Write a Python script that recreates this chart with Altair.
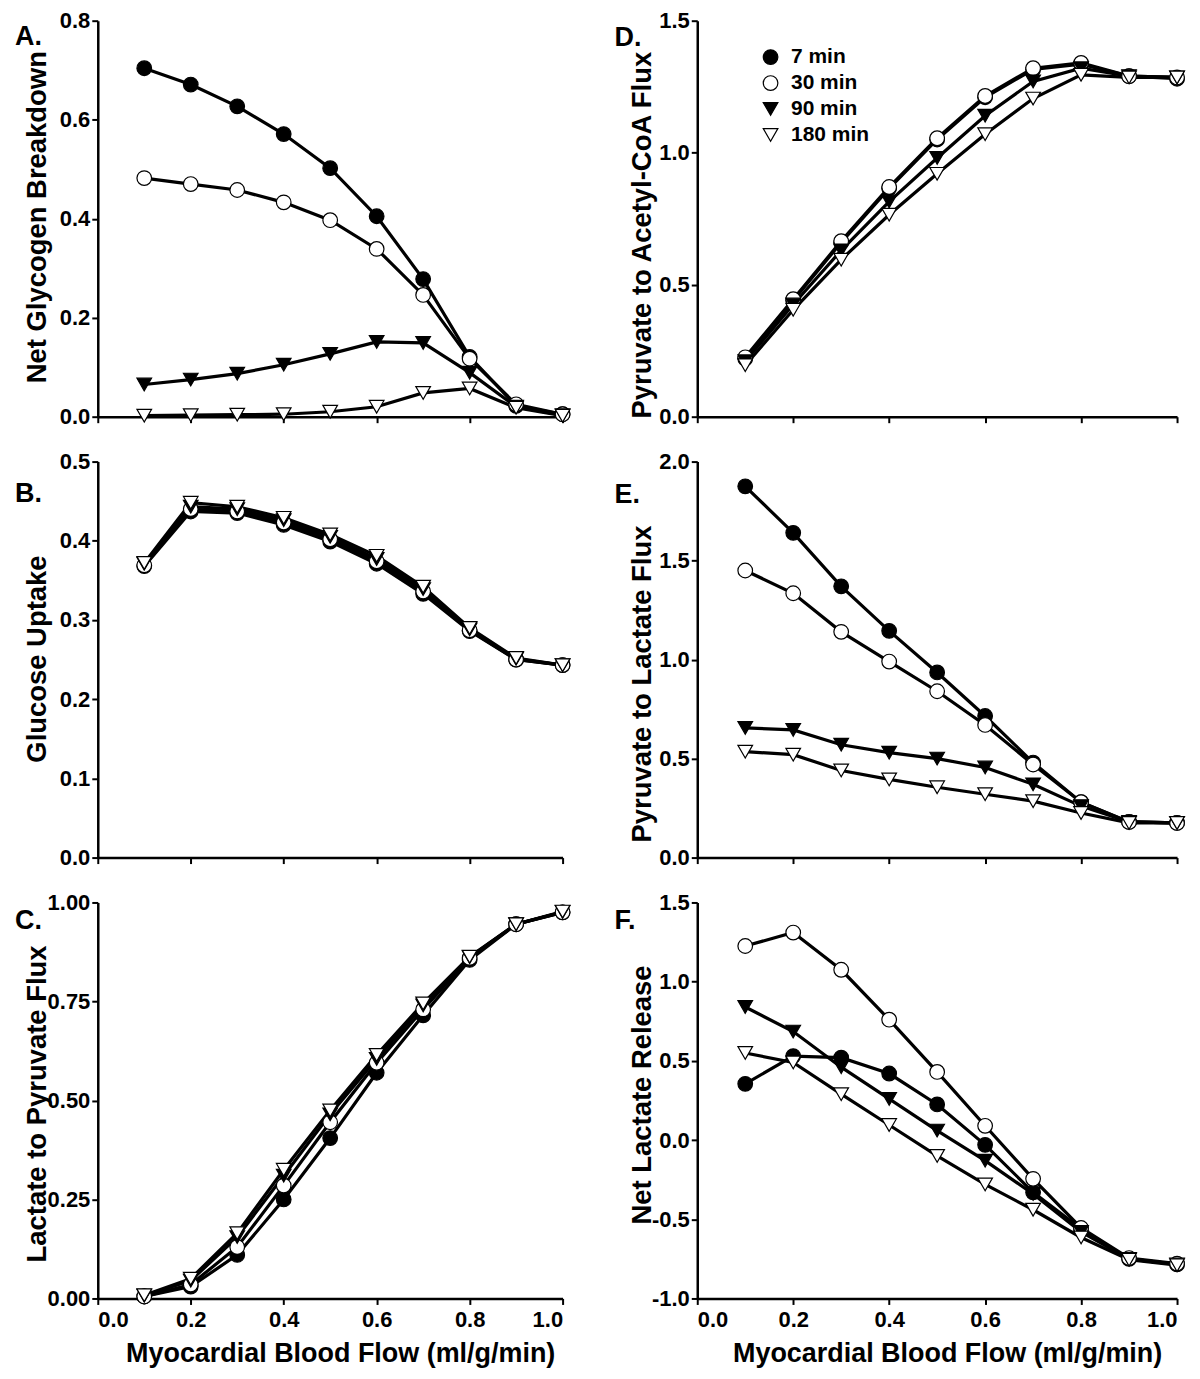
import altair as alt
import pandas as pd

flow = [0.1, 0.2, 0.3, 0.4, 0.5, 0.6, 0.7, 0.8, 0.9, 1.0]
series = ["7 min", "30 min", "90 min", "180 min"]
xticks = [0.0, 0.2, 0.4, 0.6, 0.8, 1.0]

# A. Net Glycogen Breakdown
a_7 = [0.704, 0.671, 0.627, 0.571, 0.502, 0.405, 0.278, 0.121, 0.022, 0.005]
a_30 = [0.482, 0.470, 0.458, 0.433, 0.397, 0.339, 0.246, 0.117, 0.025, 0.005]
a_90 = [0.065, 0.075, 0.087, 0.105, 0.127, 0.151, 0.149, 0.089, 0.020, 0.003]
a_180 = [0.002, 0.003, 0.004, 0.005, 0.010, 0.020, 0.048, 0.057, 0.018, 0.002]

# B. Glucose Uptake
b_7 = [0.368, 0.437, 0.435, 0.420, 0.399, 0.371, 0.333, 0.286, 0.250, 0.243]
b_30 = [0.369, 0.440, 0.437, 0.423, 0.402, 0.374, 0.336, 0.287, 0.250, 0.243]
b_90 = [0.371, 0.443, 0.440, 0.426, 0.405, 0.377, 0.339, 0.288, 0.251, 0.243]
b_180 = [0.372, 0.448, 0.443, 0.429, 0.408, 0.381, 0.342, 0.290, 0.252, 0.243]

# C. Lactate to Pyruvate Flux
c_7 = [0.005, 0.030, 0.110, 0.250, 0.405, 0.570, 0.715, 0.855, 0.945, 0.975]
c_30 = [0.005, 0.035, 0.130, 0.285, 0.445, 0.595, 0.730, 0.860, 0.945, 0.975]
c_90 = [0.007, 0.045, 0.155, 0.310, 0.465, 0.605, 0.740, 0.862, 0.945, 0.976]
c_180 = [0.008, 0.050, 0.165, 0.325, 0.475, 0.615, 0.745, 0.863, 0.945, 0.977]

# D. Pyruvate to Acetyl-CoA Flux
d_7 = [0.220, 0.440, 0.660, 0.865, 1.050, 1.210, 1.315, 1.335, 1.290, 1.280]
d_30 = [0.225, 0.445, 0.665, 0.870, 1.055, 1.215, 1.320, 1.340, 1.290, 1.285]
d_90 = [0.210, 0.425, 0.630, 0.815, 0.980, 1.140, 1.270, 1.320, 1.290, 1.285]
d_180 = [0.195, 0.405, 0.595, 0.765, 0.920, 1.070, 1.205, 1.295, 1.285, 1.285]

# E. Pyruvate to Lactate Flux
e_7 = [1.875, 1.640, 1.370, 1.145, 0.935, 0.715, 0.480, 0.280, 0.180, 0.175]
e_30 = [1.450, 1.335, 1.140, 0.990, 0.840, 0.670, 0.470, 0.280, 0.180, 0.175]
e_90 = [0.655, 0.645, 0.570, 0.530, 0.500, 0.455, 0.370, 0.260, 0.180, 0.175]
e_180 = [0.535, 0.520, 0.440, 0.395, 0.355, 0.320, 0.285, 0.225, 0.175, 0.175]

# F. Net Lactate Release
f_7 = [0.355, 0.530, 0.520, 0.420, 0.225, -0.030, -0.330, -0.560, -0.750, -0.785]
f_30 = [1.225, 1.310, 1.075, 0.760, 0.430, 0.090, -0.245, -0.555, -0.745, -0.780]
f_90 = [0.840, 0.685, 0.460, 0.260, 0.060, -0.130, -0.340, -0.580, -0.750, -0.785]
f_180 = [0.550, 0.490, 0.290, 0.095, -0.100, -0.280, -0.440, -0.615, -0.755, -0.790]

FONT = "Liberation Sans"
LEFT_W, RIGHT_W, H = 466, 481, 397


def make_df(vals_by_series):
    rows = []
    for s, vals in zip(series, vals_by_series):
        for x, v in zip(flow, vals):
            rows.append({"flow": x, "value": v, "series": s})
    return pd.DataFrame(rows)


def fmt_expr(f):
    return ("datum.value < 0 ? '-' + format(-datum.value, '%s') : format(datum.value, '%s')"
            % (f, f))


def panel(vals, letter, letter_y, ytitle, title_shift, ydomain, yticks, yfmt, width,
          bottom, title_x, legend=False):
    df = make_df(vals)
    xaxis_kw = dict(values=xticks, format=".1f", labels=bottom, grid=False,
                    tickSize=6, tickWidth=2, domainWidth=2.5,
                    labelFont=FONT, labelFontSize=22, labelFontWeight="bold",
                    labelPadding=5, labelColor="black")
    if bottom:
        xaxis_kw.update(titleFont=FONT, titleFontSize=27, titleFontWeight="bold",
                        titleX=width / 2 + 10, titleY=63, titleBaseline="alphabetic",
                        titleColor="black")
    x_kw = dict(scale=alt.Scale(domain=[0, 1], nice=False), axis=alt.Axis(**xaxis_kw))
    if bottom:
        x_kw["title"] = "Myocardial Blood Flow (ml/g/min)"
    else:
        x_kw["title"] = None
    x = alt.X("flow:Q", **x_kw)
    y = alt.Y("value:Q", title=ytitle,
              scale=alt.Scale(domain=ydomain, nice=False, zero=False),
              axis=alt.Axis(values=yticks, labelExpr=fmt_expr(yfmt), grid=False,
                            tickSize=6, tickWidth=2, domainWidth=2.5,
                            labelFont=FONT, labelFontSize=22, labelFontWeight="bold",
                            labelPadding=2, labelColor="black",
                            titleFont=FONT, titleFontSize=27.5, titleFontWeight="bold",
                            titleX=title_x, titleY=H / 2 + title_shift, titleAngle=-90,
                            titleBaseline="middle", titleAlign="center",
                            titleColor="black"))
    if legend:
        leg = alt.Legend(orient="none", legendX=63, legendY=26,
                         labelFont=FONT, labelFontSize=21, labelFontWeight="bold",
                         labelColor="black", symbolStrokeWidth=1.2,
                         rowPadding=4, labelOffset=10, padding=0)
    else:
        leg = None
    shape = alt.Shape("series:N", title=None, sort=series,
                      scale=alt.Scale(domain=series,
                                      range=["circle", "circle", "triangle-down", "triangle-down"]),
                      legend=leg)
    fill = alt.Fill("series:N", title=None, sort=series,
                    scale=alt.Scale(domain=series, range=["black", "white", "black", "white"]),
                    legend=leg)
    stroke = alt.Stroke("series:N", title=None, sort=series,
                        scale=alt.Scale(domain=series, range=["black", "black", "black", "black"]),
                        legend=leg)
    size = alt.Size("series:N", title=None, sort=series,
                    scale=alt.Scale(domain=series, range=[215, 215, 250, 250]),
                    legend=leg)
    lines = alt.Chart(df).mark_line(color="black", strokeWidth=3.2).encode(
        x=x, y=y, detail="series:N")
    points = alt.Chart(df).mark_point(filled=True, strokeWidth=1.2,
                                      opacity=1).encode(
        x=x, y=y, shape=shape, fill=fill, stroke=stroke, size=size)
    label = alt.Chart(pd.DataFrame({"t": [letter]})).mark_text(
        font=FONT, fontSize=27, fontWeight="bold", align="left", baseline="middle",
        color="black").encode(text="t:N", x=alt.value(-83), y=alt.value(letter_y))
    return alt.layer(lines, points, label).properties(width=width, height=H)


pA = panel([a_7, a_30, a_90, a_180], "A.", 16, "Net Glycogen Breakdown", -2, [0, 0.8],
           [0, 0.2, 0.4, 0.6, 0.8], ".1f", LEFT_W, False, -60)
pB = panel([b_7, b_30, b_90, b_180], "B.", 33, "Glucose Uptake", -1, [0, 0.5],
           [0, 0.1, 0.2, 0.3, 0.4, 0.5], ".1f", LEFT_W, False, -60)
pC = panel([c_7, c_30, c_90, c_180], "C.", 19, "Lactate to Pyruvate Flux", 3, [0, 1.0],
           [0, 0.25, 0.5, 0.75, 1.0], ".2f", LEFT_W, True, -60)
pD = panel([d_7, d_30, d_90, d_180], "D.", 17, "Pyruvate to Acetyl-CoA Flux", 16, [0, 1.5],
           [0, 0.5, 1.0, 1.5], ".1f", RIGHT_W, False, -55, legend=True)
pE = panel([e_7, e_30, e_90, e_180], "E.", 34, "Pyruvate to Lactate Flux", 24, [0, 2.0],
           [0, 0.5, 1.0, 1.5, 2.0], ".1f", RIGHT_W, False, -55)
pF = panel([f_7, f_30, f_90, f_180], "F.", 19, "Net Lactate Release", -6, [-1.0, 1.5],
           [-1.0, -0.5, 0, 0.5, 1.0, 1.5], ".1f", RIGHT_W, True, -55)

chart = alt.concat(pA, pD, pB, pE, pC, pF, columns=2,
                   spacing={"row": 45, "column": 135},
                   bounds="flush", align="each").resolve_scale(
    shape="independent", fill="independent", size="independent",
    stroke="independent", x="independent", y="independent"
).resolve_legend(
    shape="independent", fill="independent", size="independent",
    stroke="independent"
).properties(
    padding={"left": 7, "top": 0, "right": 5, "bottom": 5}
).configure_view(strokeWidth=0).configure_axis(
    domainColor="black", tickColor="black"
)

chart.save("out.html", embed_options={"renderer": "svg", "actions": False})
